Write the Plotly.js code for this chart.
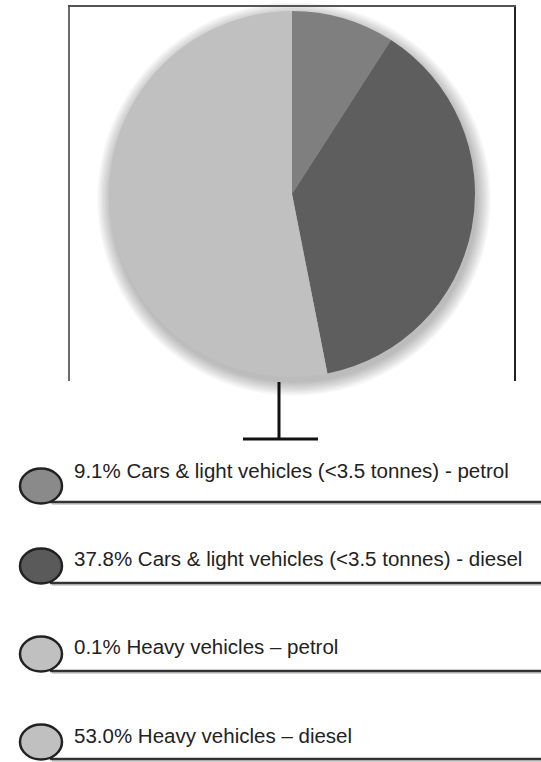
<!DOCTYPE html>
<html>
<head>
<meta charset="utf-8">
<script src="https://cdn.plot.ly/plotly-3.0.1.min.js"></script>
<style>
  html, body { margin: 0; padding: 0; background: #ffffff; }
  #chart { width: 541px; height: 762px; }
</style>
</head>
<body>
<div id="chart"></div>
<script>
// ---- data ----
const labels = [
  "Cars & light vehicles (<3.5 tonnes) - petrol",
  "Cars & light vehicles (<3.5 tonnes) - diesel",
  "Heavy vehicles \u2013 petrol",
  "Heavy vehicles \u2013 diesel"
];
const values = [9.1, 37.8, 0.1, 53.0];
const sliceColors = ["#7f7f7f", "#5e5e5e", "#c0c0c0", "#c0c0c0"];
const swatchColors = ["#8a8a8a", "#5a5a5a", "#c0c0c0", "#c0c0c0"];

// ---- layout helpers (pixel -> paper) ----
const W = 541, H = 762;
const px = x => x / W;
const py = y => 1 - y / H;

const cx = 292, cy = 194, r = 183;

const shapes = [];
const annotations = [];

// soft shadow behind pie
for (let k = 0; k < 8; k++) {
  const rr = r + 1 + k * 1.8;
  const ox = cx + 2, oy = cy + 5;
  shapes.push({
    type: "circle", xref: "paper", yref: "paper", layer: "below",
    x0: px(ox - rr), x1: px(ox + rr), y0: py(oy + rr), y1: py(oy - rr),
    fillcolor: "rgba(0,0,0,0.035)", line: { width: 0 }
  });
}

// frame (left, top, right)
shapes.push({ type: "line", xref: "paper", yref: "paper", x0: px(69), x1: px(69), y0: py(6), y1: py(381), line: { color: "#6a6a6a", width: 2 } });
shapes.push({ type: "line", xref: "paper", yref: "paper", x0: px(515), x1: px(515), y0: py(6), y1: py(381), line: { color: "#222222", width: 2 } });
shapes.push({ type: "line", xref: "paper", yref: "paper", x0: px(68), x1: px(516), y0: py(6), y1: py(6), line: { color: "#555555", width: 2 } });

// T connector
shapes.push({ type: "line", xref: "paper", yref: "paper", x0: px(279), x1: px(279), y0: py(382), y1: py(439), line: { color: "#111111", width: 3 } });
shapes.push({ type: "line", xref: "paper", yref: "paper", x0: px(243), x1: px(318), y0: py(439), y1: py(439), line: { color: "#111111", width: 3 } });

// legend rows
const rowCircleY = [486, 566, 654, 742];
const rowLineY = [502, 583, 671, 759];
const rowTextY = [469, 557, 645.5, 734];
labels.forEach((lab, i) => {
  shapes.push({ type: "line", xref: "paper", yref: "paper", x0: px(52), x1: px(541), y0: py(rowLineY[i] + 2), y1: py(rowLineY[i] + 2), line: { color: "#d2d2d2", width: 2 } });
  shapes.push({ type: "line", xref: "paper", yref: "paper", x0: px(50), x1: px(541), y0: py(rowLineY[i]), y1: py(rowLineY[i]), line: { color: "#333333", width: 2.5 } });
  shapes.push({
    type: "circle", xref: "paper", yref: "paper",
    x0: px(41 - 21), x1: px(41 + 21), y0: py(rowCircleY[i] + 17.5), y1: py(rowCircleY[i] - 17.5),
    fillcolor: swatchColors[i], line: { color: "#222222", width: 2.5 }
  });
  annotations.push({
    xref: "paper", yref: "paper", x: px(72), y: py(rowTextY[i] + 1),
    xanchor: "left", yanchor: "middle", showarrow: false,
    text: values[i].toFixed(1) + "% " + lab.replace(/</g, "&lt;"),
    font: { family: "Liberation Sans, Arial, sans-serif", size: 20.5, color: "#222222" }
  });
});

const data = [{
  type: "pie",
  labels: labels,
  values: values,
  sort: false,
  direction: "clockwise",
  rotation: 0,
  textinfo: "none",
  hoverinfo: "label+percent",
  showlegend: false,
  marker: { colors: sliceColors, line: { width: 0 } },
  domain: { x: [px(cx - r), px(cx + r)], y: [py(cy + r), py(cy - r)] }
}];

const layout = {
  width: W, height: H,
  margin: { l: 0, r: 0, t: 0, b: 0 },
  paper_bgcolor: "#ffffff",
  plot_bgcolor: "#ffffff",
  showlegend: false,
  shapes: shapes,
  annotations: annotations
};

Plotly.newPlot("chart", data, layout, { displayModeBar: false, staticPlot: true });
</script>
</body>
</html>
